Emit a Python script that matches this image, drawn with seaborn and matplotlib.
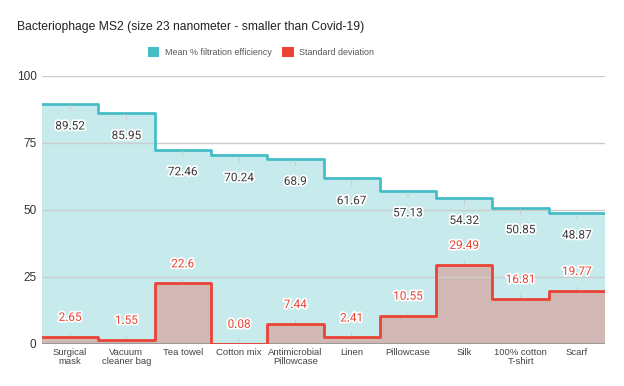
import numpy as np
import pandas as pd
import matplotlib
matplotlib.use('Agg')
import matplotlib.pyplot as plt
import matplotlib.patheffects as pe
from matplotlib.patches import Patch
import seaborn as sns

# data
materials = ['Surgical\nmask', 'Vacuum\ncleaner bag', 'Tea towel', 'Cotton mix',
             'Antimicrobial\nPillowcase', 'Linen', 'Pillowcase', 'Silk',
             '100% cotton\nT-shirt', 'Scarf']
mean_eff = [89.52, 85.95, 72.46, 70.24, 68.9, 61.67, 57.13, 54.32, 50.85, 48.87]
std_dev = [2.65, 1.55, 22.6, 0.08, 7.44, 2.41, 10.55, 29.49, 16.81, 19.77]
y_ticks = [0, 25, 50, 75, 100]

teal = '#46bdc6'
red = '#ea4335'

sns.set_theme(style='white')
plt.rcParams['font.family'] = ['Liberation Sans', 'DejaVu Sans']

# step edges: each category covers one unit band
edges = np.arange(len(materials) + 1) - 0.5
df = pd.DataFrame({
    'x': edges,
    'mean': mean_eff + [mean_eff[-1]],
    'sd': std_dev + [std_dev[-1]],
})

fig = plt.figure(figsize=(6.24, 3.86), dpi=100)
ax = fig.add_axes([0.0673, 0.109, 0.9023, 0.695])

ax.fill_between(df['x'], df['mean'], step='post', color=teal, alpha=0.3, lw=0, zorder=1)
ax.fill_between(df['x'], df['sd'], step='post', color=red, alpha=0.3, lw=0, zorder=1.1)
sns.lineplot(data=df, x='x', y='mean', drawstyle='steps-post', color=teal, lw=2,
             ax=ax, zorder=3, solid_joinstyle='round')
sns.lineplot(data=df, x='x', y='sd', drawstyle='steps-post', color=red, lw=2,
             ax=ax, zorder=3, solid_joinstyle='round')

outline = [pe.withStroke(linewidth=2.5, foreground='white')]
for i, (m, s) in enumerate(zip(mean_eff, std_dev)):
    ax.annotate(f'{m:g}', xy=(i, m), xytext=(0, -16), textcoords='offset points',
                ha='center', va='center', fontsize=8.5, color='#3a3a3a',
                family=['Roboto', 'DejaVu Sans'], path_effects=outline, zorder=5,
                arrowprops=dict(arrowstyle='-', color='#c8c8c8', lw=0.6,
                                shrinkA=4, shrinkB=1))
    ax.annotate(f'{s:g}', xy=(i, s), xytext=(0, 14), textcoords='offset points',
                ha='center', va='center', fontsize=8.5, color=red,
                family=['Roboto', 'DejaVu Sans'], path_effects=outline, zorder=5,
                arrowprops=dict(arrowstyle='-', color='#c8c8c8', lw=0.6,
                                shrinkA=4, shrinkB=1))

ax.set_xlim(edges[0], edges[-1])
ax.set_ylim(0, 100)
ax.set_yticks(y_ticks)
ax.set_xticks(range(len(materials)))
ax.set_xticklabels(materials, fontsize=6.8, color='#444444', linespacing=1.0)
ax.tick_params(axis='y', labelsize=8.5, colors='#333333', length=0, pad=4)
ax.tick_params(axis='x', length=0, pad=3)
ax.set_xlabel('')
ax.set_ylabel('')
ax.set_axisbelow('line')
ax.grid(axis='y', color='#cccccc', lw=1)
ax.axhline(0, color='#9a9a9a', lw=1.5, zorder=2.5)
sns.despine(ax=ax, left=True, bottom=True)

fig.text(17 / 624, 1 - 27 / 386, 'Bacteriophage MS2 (size 23 nanometer - smaller than Covid-19)',
         fontsize=8.7, color='#222222', va='center', ha='left')

handles = [Patch(facecolor=teal, edgecolor='none', label='Mean % filtration efficiency'),
           Patch(facecolor=red, edgecolor='none', label='Standard deviation')]
fig.legend(handles=handles, loc='center', bbox_to_anchor=(261 / 624, 1 - 52 / 386),
           ncol=2, frameon=False, fontsize=6.4, handlelength=1.3, handleheight=1.3,
           handletextpad=0.6, columnspacing=1.2, labelcolor='#555555')

fig.savefig('out.png', dpi=100)
